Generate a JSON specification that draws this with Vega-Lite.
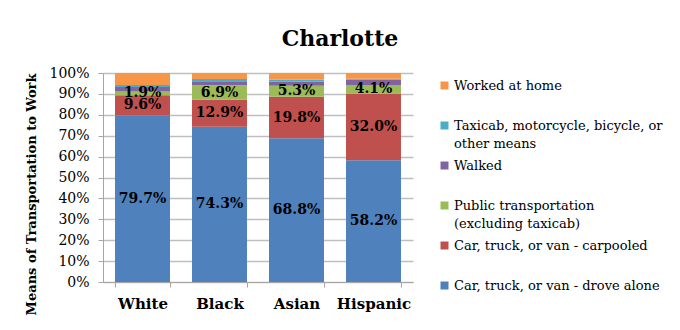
{
  "$schema": "https://vega.github.io/schema/vega-lite/v6.json",
  "autosize": "none",
  "width": 310,
  "height": 209,
  "padding": {"left": 103, "top": 73, "right": 267, "bottom": 48},
  "background": "white",
  "title": {
    "text": "Charlotte",
    "font": "DejaVu Serif",
    "fontSize": 22,
    "fontWeight": "bold",
    "color": "black",
    "anchor": "middle",
    "frame": "group",
    "dx": 82,
    "offset": 15
  },
  "data": {
    "values": [
      {"race": "White", "mode": "Car, truck, or van - drove alone", "order": 1, "value": 0.797},
      {"race": "White", "mode": "Car, truck, or van - carpooled", "order": 2, "value": 0.096},
      {"race": "White", "mode": "Public transportation (excluding taxicab)", "order": 3, "value": 0.019},
      {"race": "White", "mode": "Walked", "order": 4, "value": 0.021},
      {"race": "White", "mode": "Taxicab, motorcycle, bicycle, or other means", "order": 5, "value": 0.010},
      {"race": "White", "mode": "Worked at home", "order": 6, "value": 0.057},
      {"race": "Black", "mode": "Car, truck, or van - drove alone", "order": 1, "value": 0.743},
      {"race": "Black", "mode": "Car, truck, or van - carpooled", "order": 2, "value": 0.129},
      {"race": "Black", "mode": "Public transportation (excluding taxicab)", "order": 3, "value": 0.069},
      {"race": "Black", "mode": "Walked", "order": 4, "value": 0.020},
      {"race": "Black", "mode": "Taxicab, motorcycle, bicycle, or other means", "order": 5, "value": 0.010},
      {"race": "Black", "mode": "Worked at home", "order": 6, "value": 0.029},
      {"race": "Asian", "mode": "Car, truck, or van - drove alone", "order": 1, "value": 0.688},
      {"race": "Asian", "mode": "Car, truck, or van - carpooled", "order": 2, "value": 0.198},
      {"race": "Asian", "mode": "Public transportation (excluding taxicab)", "order": 3, "value": 0.053},
      {"race": "Asian", "mode": "Walked", "order": 4, "value": 0.019},
      {"race": "Asian", "mode": "Taxicab, motorcycle, bicycle, or other means", "order": 5, "value": 0.010},
      {"race": "Asian", "mode": "Worked at home", "order": 6, "value": 0.032},
      {"race": "Hispanic", "mode": "Car, truck, or van - drove alone", "order": 1, "value": 0.582},
      {"race": "Hispanic", "mode": "Car, truck, or van - carpooled", "order": 2, "value": 0.320},
      {"race": "Hispanic", "mode": "Public transportation (excluding taxicab)", "order": 3, "value": 0.041},
      {"race": "Hispanic", "mode": "Walked", "order": 4, "value": 0.026},
      {"race": "Hispanic", "mode": "Taxicab, motorcycle, bicycle, or other means", "order": 5, "value": 0.003},
      {"race": "Hispanic", "mode": "Worked at home", "order": 6, "value": 0.028}
    ]
  },
  "encoding": {
    "x": {
      "field": "race",
      "type": "nominal",
      "sort": ["White", "Black", "Asian", "Hispanic"],
      "scale": {"paddingInner": 0.286, "paddingOuter": 0.156},
      "axis": {
        "title": null,
        "labelAngle": 0,
        "labelFont": "DejaVu Serif",
        "labelFontSize": 15,
        "labelFontWeight": "bold",
        "labelColor": "black",
        "labelPadding": 9,
        "domainColor": "#a6a6a6",
        "tickColor": "#a6a6a6",
        "tickBand": "extent",
        "tickSize": 5
      }
    },
    "y": {
      "field": "value",
      "type": "quantitative",
      "stack": "zero",
      "scale": {"domain": [0, 1], "nice": false},
      "axis": {
        "title": "Means of Transportation to Work",
        "titleFont": "DejaVu Serif",
        "titleFontSize": 13,
        "titleFontWeight": "bold",
        "titleColor": "black",
        "titlePadding": 10,
        "titleY": 121,
        "format": ".0%",
        "values": [0, 0.1, 0.2, 0.3, 0.4, 0.5, 0.6, 0.7, 0.8, 0.9, 1],
        "labelFont": "DejaVu Serif",
        "labelFontSize": 14,
        "labelColor": "black",
        "labelPadding": 9,
        "domainColor": "#a6a6a6",
        "tickColor": "#a6a6a6",
        "tickSize": 5,
        "gridColor": "#bfbfbf",
        "gridWidth": 1.5
      }
    }
  },
  "layer": [
    {
      "mark": {"type": "bar"},
      "encoding": {
        "color": {
          "field": "mode",
          "type": "nominal",
          "scale": {
            "domain": [
              "Worked at home",
              "Taxicab, motorcycle, bicycle, or other means",
              "Walked",
              "Public transportation (excluding taxicab)",
              "Car, truck, or van - carpooled",
              "Car, truck, or van - drove alone"
            ],
            "range": ["#F79646", "#4BACC6", "#8064A2", "#9BBB59", "#C0504D", "#4F81BD"]
          },
          "legend": {
            "title": null,
            "orient": "none",
            "legendX": 335,
            "legendY": 6,
            "symbolType": "square",
            "symbolSize": 64,
            "symbolStrokeWidth": 0,
            "labelFont": "DejaVu Serif",
            "labelFontSize": 13,
            "labelColor": "black",
            "labelLimit": 300,
            "labelOffset": 3,
            "rowPadding": 8,
            "labelExpr": "datum.label == 'Taxicab, motorcycle, bicycle, or other means' ? ['Taxicab, motorcycle, bicycle, or', 'other means'] : datum.label == 'Public transportation (excluding taxicab)' ? ['Public transportation', '(excluding taxicab)'] : [datum.label, '']"
          }
        },
        "order": {"field": "order", "type": "quantitative"}
      }
    },
    {
      "transform": [{"filter": "datum.order <= 3"}],
      "mark": {
        "type": "text",
        "font": "DejaVu Serif",
        "fontSize": 14,
        "fontWeight": "bold",
        "color": "black",
        "baseline": "middle"
      },
      "encoding": {
        "y": {"field": "value", "type": "quantitative", "stack": "zero", "bandPosition": 0.5},
        "order": {"field": "order", "type": "quantitative"},
        "text": {"field": "value", "type": "quantitative", "format": ".1%"}
      }
    }
  ],
  "config": {
    "view": {"stroke": null},
    "style": {"guide-label": {"lineHeight": 18}}
  }
}
